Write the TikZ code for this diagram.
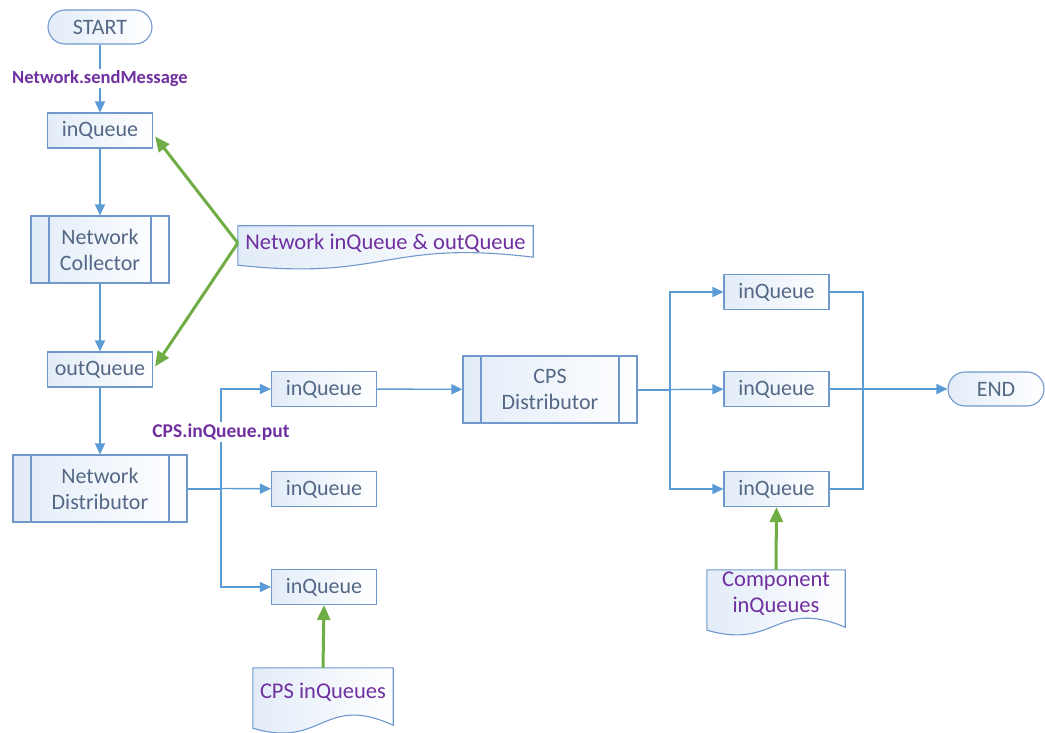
\documentclass[tikz,border=0pt]{standalone}
\usepackage{fontspec}
\setmainfont{Carlito}
\usetikzlibrary{arrows.meta,calc,backgrounds}
\definecolor{flowblue}{RGB}{91,155,213}
\definecolor{edgeblue}{RGB}{112,152,204}
\definecolor{boxfill}{RGB}{226,236,248}
\definecolor{boxtext}{RGB}{84,104,134}
\definecolor{labelpurple}{RGB}{112,48,160}
\definecolor{notegreen}{RGB}{112,173,71}
\begin{document}
\begin{tikzpicture}[x=1pt,y=-1pt,
  base/.style={draw=edgeblue, line width=1.1pt, left color=boxfill, right color=white,
    text=boxtext, font=\fontsize{22}{26}\selectfont, inner sep=0pt, align=center},
  queue/.style={base, minimum width=105pt, minimum height=35pt},
  terminal/.style={base, rounded corners=17pt, minimum width=104pt, minimum height=34pt},
  subproc/.style={base, minimum height=67pt,
    path picture={\draw[edgeblue, line width=1.1pt]
      ([xshift=18pt]path picture bounding box.north west) -- ([xshift=18pt]path picture bounding box.south west)
      ([xshift=-18pt]path picture bounding box.north east) -- ([xshift=-18pt]path picture bounding box.south east);}},
  doctext/.style={text=labelpurple, font=\fontsize{22.5}{26}\selectfont, inner sep=0pt, align=center},
  docline/.style={draw=edgeblue, line width=1.1pt, left color=boxfill, right color=white},
  flow/.style={draw=flowblue, line width=1.4pt, -{Triangle[length=11pt,width=10pt]}},
  link/.style={draw=flowblue, line width=1.4pt},
  trunk/.style={draw=flowblue, line width=2pt},
  note/.style={draw=notegreen, line width=3pt, -{Triangle[length=15pt,width=13pt]}},
  tag/.style={fill=white, text=labelpurple, font=\bfseries\fontsize{18.5}{20}\selectfont, inner sep=1.5pt}
]
\useasboundingbox (0,0) rectangle (1045,733);

% left column: network side
\node[terminal] (start) at (100,27) {START};
\node[queue] (inq) at (100,130.5) {inQueue};
\node[subproc, minimum width=138pt] (coll) at (100,249.5) {Network\\Collector};
\node[queue] (outq) at (100,369.5) {outQueue};
\node[subproc, minimum width=174pt] (nd) at (100,488.5) {Network\\Distributor};

% CPS queues
\node[queue] (cq1) at (324,389) {inQueue};
\node[queue] (cq2) at (324,489) {inQueue};
\node[queue] (cq3) at (324,587) {inQueue};
\node[subproc, minimum width=174pt] (cpsd) at (550,389.5) {CPS\\Distributor};

% component queues
\node[queue] (r1) at (776.5,292) {inQueue};
\node[queue] (r2) at (776.5,389) {inQueue};
\node[queue] (r3) at (776.5,489) {inQueue};
\node[terminal, minimum width=96pt] (end) at (996,389) {END};

% annotation documents
\node[doctext, minimum width=295pt, minimum height=34pt] (docA) at (385.5,243) {Network inQueue \& outQueue};
\node[doctext, minimum width=140pt, minimum height=48pt] (docB) at (323,692) {CPS inQueues};
\node[doctext, minimum width=138pt, minimum height=48pt] (docC) at (776,594) {Component\\inQueues};
\begin{scope}[on background layer]
  \foreach \n/\l/\r/\ca/\cb in {docA/5/-3/16/26, docB/12/9/21/35, docC/12/9/20/32}{
    \path[docline] (\n.north west) -- (\n.north east) -- ($(\n.south east)+(0,\r)$)
      .. controls ($(\n.south)+(0,\l-\cb)$) and ($(\n.south)+(0,\l+\ca)$) .. ($(\n.south west)+(0,\l)$) -- cycle;
  }
\end{scope}

% main flow
\draw[flow] (start) -- node[tag] {Network.sendMessage} (inq);
\draw[flow] (inq) -- (coll);
\draw[flow] (coll) -- (outq);
\draw[flow] (outq) -- (nd);

% network distributor fans out to the CPS queues
\coordinate (split1) at (221,488.5);
\draw[trunk] (nd.east) -- (split1);
\draw[flow] (split1) -- (cq2);
\draw[flow] (split1) |- (cq1);
\draw[flow] (split1) |- (cq3);
\node[tag, font=\bfseries\fontsize{19.5}{20}\selectfont] (puttag) at (221,432) {CPS.inQueue.put};

\draw[flow] (cq1) -- (cpsd);

% CPS distributor fans out to the component queues
\coordinate (split2) at (670,389.5);
\draw[trunk] (cpsd.east) -- (split2);
\draw[flow] (split2) |- (r1);
\draw[flow] (split2) -- (r2);
\draw[flow] (split2) |- (r3);

% component queues merge into END
\coordinate (merge) at (863,389);
\draw[link] (r1.east) -| (merge);
\draw[link] (r3.east) -| (merge);
\draw[link] (r2.east) -- (merge);
\draw[flow, line width=2pt] (merge) -- (end);

% annotation arrows
\draw[note] (docA.west) -- ($(inq.east)+(2,6)$);
\draw[note] (docA.west) -- ($(outq.east)+(2,-3)$);
\draw[note] (docB.north) -- (cq3.south);
\draw[note] (docC.north) -- (r3.south);
\end{tikzpicture}
\end{document}
